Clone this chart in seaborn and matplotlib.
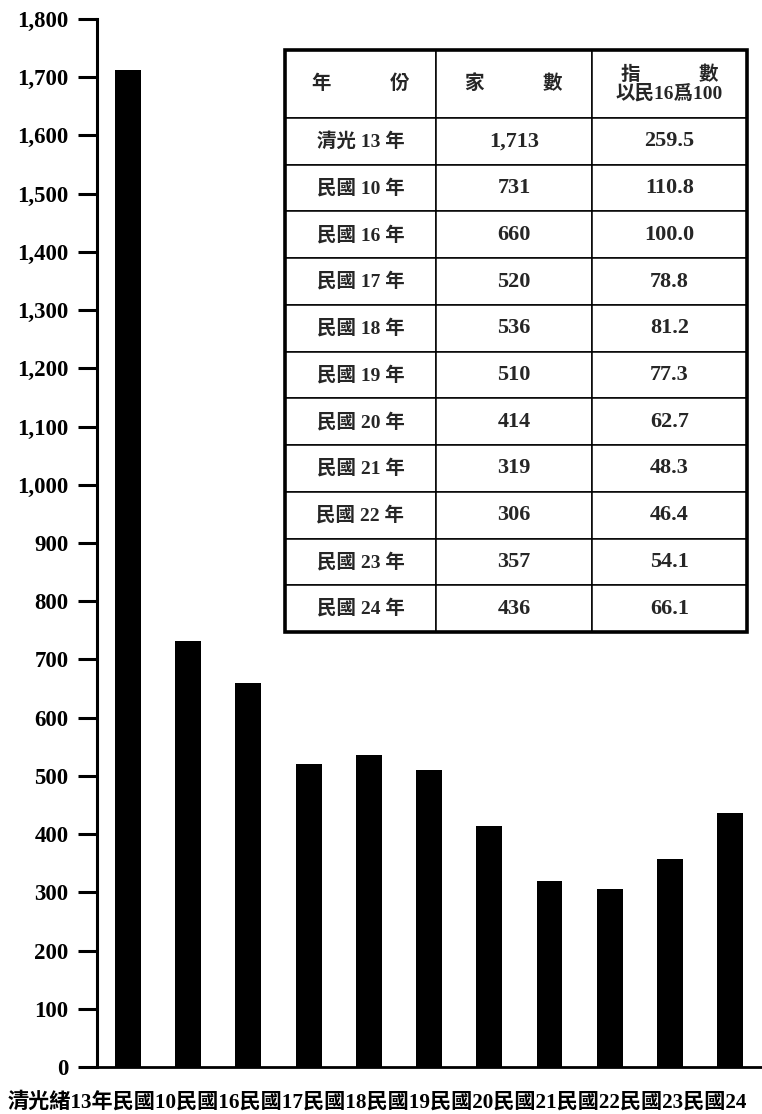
import matplotlib
matplotlib.use("Agg")
import matplotlib.pyplot as plt
from matplotlib.patches import Rectangle
import seaborn as sns
import pandas as pd

# ---- data ----
x_labels = ["清光緒13年", "民國10", "民國16", "民國17", "民國18", "民國19",
            "民國20", "民國21", "民國22", "民國23", "民國24"]
table_years = ["清光 13 年", "民國 10 年", "民國 16 年", "民國 17 年", "民國 18 年",
               "民國 19 年", "民國 20 年", "民國 21 年", "民國 22 年", "民國 23 年",
               "民國 24 年"]
counts = [1713, 731, 660, 520, 536, 510, 414, 319, 306, 357, 436]
index_vals = ["259.5", "110.8", "100.0", "78.8", "81.2", "77.3", "62.7",
              "48.3", "46.4", "54.1", "66.1"]
col_labels = ["年　　　份", "家　　　數", "指　　　數\n以民16爲100"]
y_ticks = [0, 100, 200, 300, 400, 500, 600, 700, 800, 900, 1000, 1100,
           1200, 1300, 1400, 1500, 1600, 1700, 1800]

sns.set_theme(style="white")
FAM = ["Liberation Serif", "Noto Sans CJK TC", "DejaVu Sans"]
plt.rcParams["font.family"] = FAM

fig = plt.figure(figsize=(7.62, 11.14), dpi=100)
ax = fig.add_axes([97 / 762, 47 / 1114, 665 / 762, 1048 / 1114])

df = pd.DataFrame({"year": x_labels, "count": counts})
sns.barplot(data=df, x="year", y="count", color="black", saturation=1,
            width=0.43, ax=ax, linewidth=0)

ax.set_xlim(-0.515, 10.53)
ax.set_ylim(0, 1800)
ax.set_xticks([])
ax.set_xlabel("")
ax.set_ylabel("")
ax.set_yticks(y_ticks)
ax.set_yticklabels([f"{v:,}" for v in y_ticks], fontsize=16.5,
                   fontweight="bold", family=FAM)
ax.tick_params(axis="y", left=True, length=13.5, width=2.2, pad=7,
               color="black", labelcolor="black")
for s in ["top", "right"]:
    ax.spines[s].set_visible(False)
ax.spines["left"].set_linewidth(2.2)
ax.spines["bottom"].set_linewidth(2.0)
ax.spines["left"].set_color("black")
ax.spines["bottom"].set_color("black")

# ---- inset table ----
cell_text = [[y, f"{c:,}", i] for y, c, i in zip(table_years, counts, index_vals)]
x0, x1 = (285 - 97) / 665, (747 - 97) / 665
y1, y0 = (1067 - 50) / 1048, (1067 - 632) / 1048
tbl = ax.table(cellText=cell_text, colLabels=col_labels, cellLoc="center",
               colWidths=[151, 156, 155], bbox=[x0, y0, x1 - x0, y1 - y0],
               zorder=5)
tbl.auto_set_font_size(False)
for (r, c), cell in tbl.get_celld().items():
    cell.set_height(68 if r == 0 else 46.7)
    cell.set_edgecolor("black")
    cell.set_linewidth(1.1)
    cell.set_facecolor("white")
    t = cell.get_text()
    t.set_fontsize(14 if (c == 0 or r == 0) else 16)
    t.set_fontweight("bold")
    t.set_family(FAM)
    if r == 0 and c == 2:
        t.set_linespacing(0.95)
ax.add_patch(Rectangle((x0, y0), x1 - x0, y1 - y0, transform=ax.transAxes,
                       fill=False, edgecolor="black", linewidth=2.6, zorder=6,
                       clip_on=False))

# ---- bottom category labels (printed contiguously) ----
fig.text(8 / 762, (1114 - 1102) / 1114, "".join(x_labels), ha="left",
         va="center", fontsize=15.2, fontweight="bold", family=FAM,
         color="black")

fig.savefig("out.png", dpi=100, facecolor="white")
